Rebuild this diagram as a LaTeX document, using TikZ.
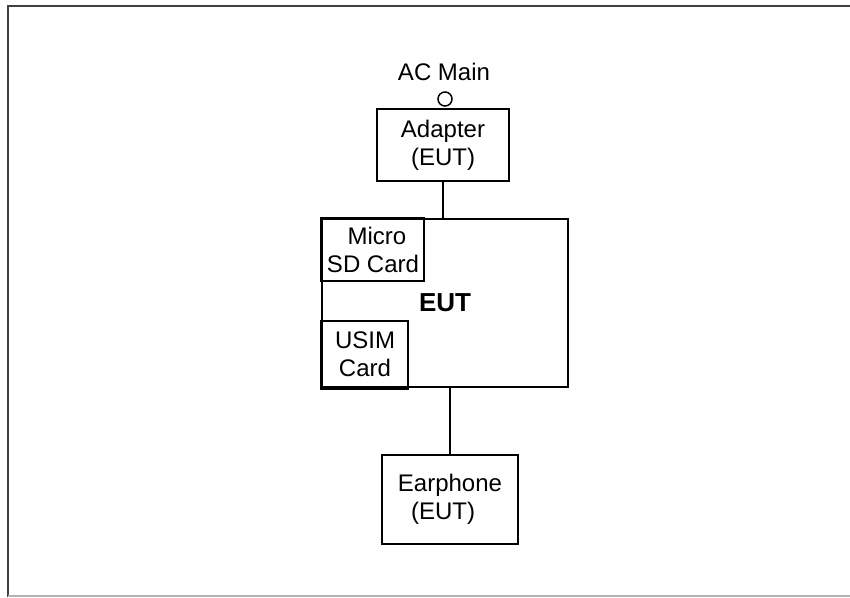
\documentclass[tikz,border=0pt]{standalone}
\usepackage{fontspec}
\setmainfont{Liberation Sans}
\usepackage{tikz}
\usetikzlibrary{positioning}
\tikzset{
  unitbox/.style={draw,line width=1.5pt,inner sep=0pt,align=center,font=\fontsize{24}{28}\selectfont},
  wire/.style={line width=1.5pt}
}
\begin{document}
\begin{tikzpicture}[x=1pt,y=-1pt]
\useasboundingbox (0,0) rectangle (850,597);
\draw[line width=2pt,black!75] (8,597)--(8,6)--(850,6);
\draw[line width=1.5pt,black!30] (8,596)--(850,596);
\node[unitbox,minimum width=132pt,minimum height=72pt] (adapter) at (443,145) {Adapter\\(EUT)};
\node[circle,draw,line width=1.5pt,minimum size=14pt,inner sep=0pt] (ac) at (445,99) {};
\node[font=\fontsize{24}{28}\selectfont] (acmain) at (444,72) {AC Main};
\node[unitbox,minimum width=246pt,minimum height=168pt,font=\fontsize{26}{28}\selectfont] (eut) at (445,303) {\textbf{EUT}};
\node[unitbox,minimum width=102pt,minimum height=62pt] (sdcard) at (373,250) {\hspace*{8pt}Micro\\SD Card};
\node[unitbox,minimum width=86pt,minimum height=66pt] (usim) at (365,354) {USIM\\Card};
\draw[line width=3.5pt] (sdcard.south west)--(sdcard.north west)--(sdcard.north east);
\draw[line width=3.5pt] (usim.north west)--(usim.south west)--(usim.south east);
\node[unitbox,minimum width=136pt,minimum height=89pt] (earphone) at (450,499.5) {Earphone\\\hspace*{-14pt}(EUT)};
\draw[wire] (adapter.south)--(adapter.south |- eut.north);
\draw[wire] (earphone.north |- eut.south)--(earphone.north);
\end{tikzpicture}
\end{document}
